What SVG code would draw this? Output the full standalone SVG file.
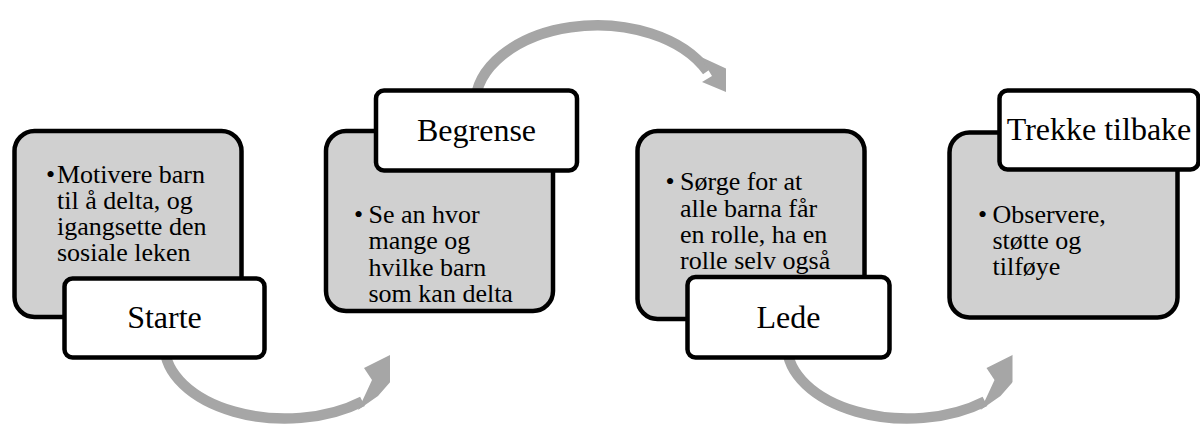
<svg xmlns="http://www.w3.org/2000/svg" width="1200" height="425" viewBox="0 0 1200 425">
  <style>
    .panel { fill: #d0d0d0; stroke: #000; stroke-width: 4.5; }
    .tag { fill: #fff; stroke: #000; stroke-width: 4.5; }
    text { font-family: 'Liberation Serif', 'DejaVu Serif', serif; fill: #000; }
    .title { font-size: 32px; text-anchor: middle; }
    .body { font-size: 26px; }
    .band { fill: none; stroke: #a6a6a6; stroke-width: 10.5; }
    .head { fill: #a6a6a6; }
  </style>
  <defs>
    <clipPath id="clipLow1"><rect x="0" y="0" width="390" height="425"/></clipPath>
    <clipPath id="clipTop"><rect x="0" y="0" width="726" height="425"/></clipPath>
    <clipPath id="clipLow2"><rect x="0" y="0" width="1012.5" height="425"/></clipPath>
  </defs>

  <!-- curved arrows between the steps, drawn behind the boxes -->
  <g id="connectors">
    <g clip-path="url(#clipLow1)">
      <path class="band" d="M 164.5 345 A 120.5 73.5 0 0 0 362.5 401.3"/>
      <polygon class="head" points="358,410 378,396 400,371 404,348 364,368 372,380 366,393"/>
    </g>
    <g clip-path="url(#clipTop)">
      <path class="band" d="M 475.25 105 A 121.75 79.75 0 0 1 707.3 71.3"/>
      <polygon class="head" points="700,56.5 740,75 745,100 702,82 712,76"/>
    </g>
    <g clip-path="url(#clipLow2)">
      <g transform="translate(622.5,0)">
        <path class="band" d="M 164.5 345 A 120.5 73.5 0 0 0 362.5 401.3"/>
        <polygon class="head" points="358,410 378,396 400,371 404,348 364,368 372,380 366,393"/>
      </g>
    </g>
  </g>

  <g id="step-starte">
    <rect class="panel" x="14.5" y="131" width="227" height="186" rx="20"/>
    <text class="body" x="46" y="183">•</text>
    <text class="body" x="57" y="183">Motivere barn</text>
    <text class="body" x="57" y="209">til å delta, og</text>
    <text class="body" x="57" y="235">igangsette den</text>
    <text class="body" x="57" y="261">sosiale leken</text>
    <rect class="tag" x="64.5" y="278.5" width="200" height="79" rx="8"/>
    <text class="title" x="164.5" y="328">Starte</text>
  </g>

  <g id="step-begrense">
    <rect class="panel" x="326" y="131" width="227" height="180" rx="20"/>
    <text class="body" x="354" y="222.5">•</text>
    <text class="body" x="368.5" y="222.5">Se an hvor</text>
    <text class="body" x="368.5" y="249">mange og</text>
    <text class="body" x="368.5" y="275.5">hvilke barn</text>
    <text class="body" x="368.5" y="302">som kan delta</text>
    <rect class="tag" x="376" y="90.5" width="201" height="80" rx="8"/>
    <text class="title" x="476.5" y="140.5">Begrense</text>
  </g>

  <g id="step-lede">
    <rect class="panel" x="637.5" y="131" width="227" height="188" rx="20"/>
    <text class="body" x="665.5" y="190">•</text>
    <text class="body" x="680" y="190">Sørge for at</text>
    <text class="body" x="680" y="216.5">alle barna får</text>
    <text class="body" x="680" y="243">en rolle, ha en</text>
    <text class="body" x="680" y="268.5">rolle selv også</text>
    <rect class="tag" x="687.5" y="277" width="202" height="80.5" rx="8"/>
    <text class="title" x="788.5" y="328">Lede</text>
  </g>

  <g id="step-trekke-tilbake">
    <rect class="panel" x="949.5" y="132.5" width="228" height="185" rx="20"/>
    <text class="body" x="978" y="222.5">•</text>
    <text class="body" x="992.5" y="222.5">Observere,</text>
    <text class="body" x="992.5" y="249">støtte og</text>
    <text class="body" x="992.5" y="275">tilføye</text>
    <rect class="tag" x="999.5" y="90.5" width="199" height="79" rx="8"/>
    <text class="title" x="1099" y="140">Trekke tilbake</text>
  </g>
</svg>
